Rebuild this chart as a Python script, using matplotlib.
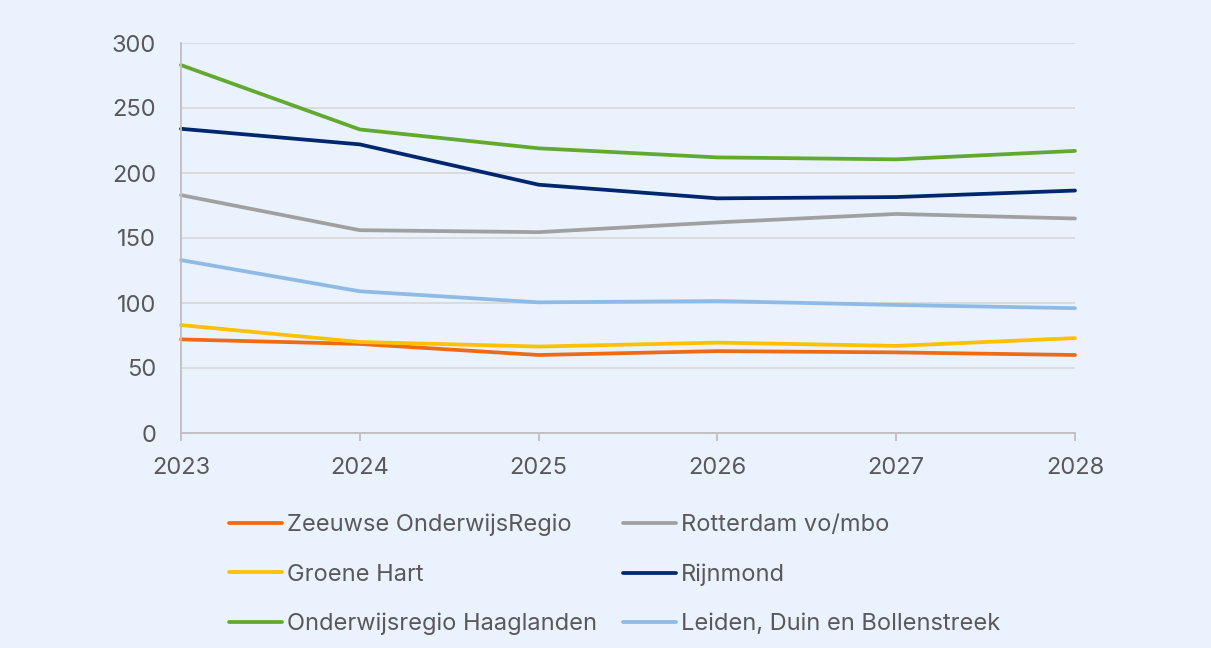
import matplotlib
matplotlib.use("Agg")
import matplotlib.pyplot as plt

# Data
years = [2023, 2024, 2025, 2026, 2027, 2028]
zeeuwse = [72, 68.5, 60, 63, 62, 60]
rotterdam = [183, 156, 154.5, 162, 168.5, 165]
groene_hart = [83, 70, 66.5, 69.5, 67, 73]
rijnmond = [234, 222, 191, 180.5, 181.5, 186.5]
haaglanden = [283, 233.5, 219, 212, 210.5, 217]
leiden = [133, 109, 100.5, 101.5, 98.5, 96]

bg = "#EAF2FD"
txt = "#595959"
plt.rcParams['font.family'] = ['Inter', 'DejaVu Sans']

fig = plt.figure(figsize=(12.11, 6.48), dpi=100, facecolor=bg)
ax = fig.add_axes([181 / 1211, 1 - 433 / 648, (1075 - 181) / 1211, (433 - 43) / 648])
ax.set_facecolor(bg)

series = [
    ("Zeeuwse OnderwijsRegio", zeeuwse, "#EE6B15"),
    ("Groene Hart", groene_hart, "#FFC000"),
    ("Onderwijsregio Haaglanden", haaglanden, "#62A92F"),
    ("Rotterdam vo/mbo", rotterdam, "#A0A0A0"),
    ("Rijnmond", rijnmond, "#00266E"),
    ("Leiden, Duin en Bollenstreek", leiden, "#8EBAE5"),
]
order = [3, 5, 4, 0, 1, 2]  # draw order (back to front)
handles = {}
for i in order:
    name, vals, col = series[i]
    line, = ax.plot(years, vals, color=col, lw=2.7, solid_capstyle='round', clip_on=False, label=name)
    handles[i] = line

ax.set_xlim(2023, 2028)
ax.set_ylim(0, 300)
ax.set_yticks(range(0, 301, 50))
ax.set_xticks(years)
ax.grid(axis='y', color='#D9D9D9', lw=1.3)
ax.set_axisbelow(True)
for s in ['top', 'right']:
    ax.spines[s].set_visible(False)
ax.spines['left'].set_color('#BFBFBF')
ax.spines['left'].set_linewidth(1.3)
ax.spines['bottom'].set_color('#BFBFBF')
ax.spines['bottom'].set_linewidth(1.3)
ax.tick_params(axis='y', length=0, pad=18, labelsize=17, labelcolor=txt)
ax.tick_params(axis='x', length=6, width=1.3, color='#BFBFBF', pad=11, labelsize=17, labelcolor=txt)

leg = fig.legend([handles[i] for i in range(6)], [s[0] for s in series],
                 ncol=2, loc='upper left', bbox_to_anchor=(229 / 1211, 1 - 514 / 648),
                 frameon=False, fontsize=17, labelcolor=txt, handlelength=2.25,
                 handletextpad=0.2, columnspacing=1.1, labelspacing=1.15,
                 borderpad=0, borderaxespad=0)

fig.savefig("out.png", dpi=100, facecolor=bg)
